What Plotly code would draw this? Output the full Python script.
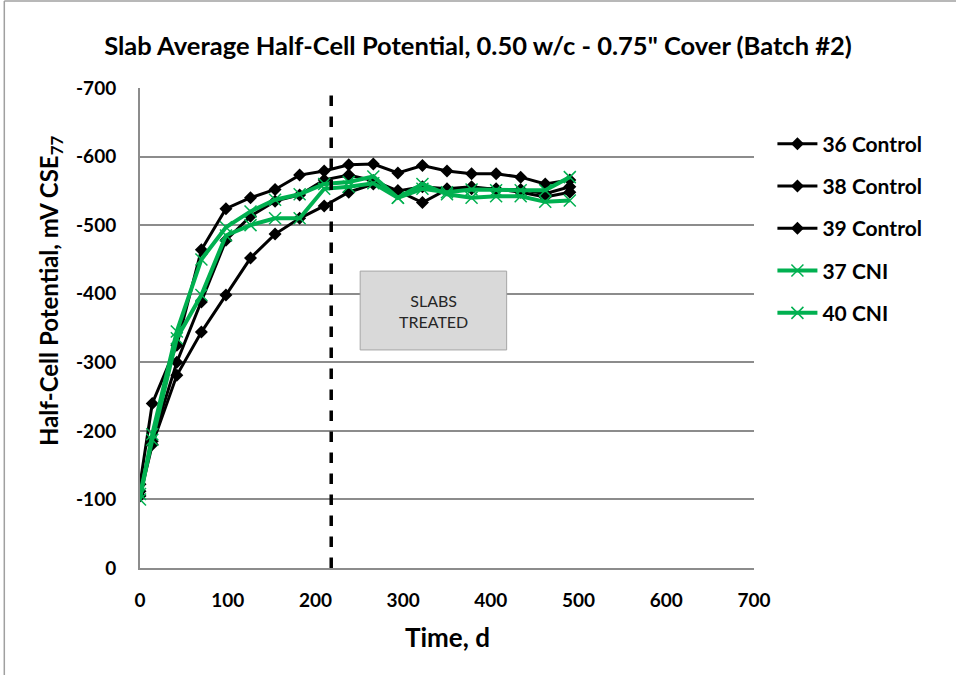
import plotly.graph_objects as go

# time, days
days = [0, 14, 42, 70, 98, 126, 154, 182, 210, 238, 266, 294, 322, 350, 378, 406, 434, 462, 490]

# half-cell potential, mV CSE
slab36 = [-122, -240, -325, -464, -524, -540, -552, -573, -579, -588, -589, -576, -587, -579, -575, -575, -570, -560, -566]
slab38 = [-105, -180, -281, -344, -398, -452, -487, -510, -528, -548, -560, -550, -533, -552, -553, -553, -548, -541, -548]
slab39 = [-112, -185, -300, -388, -478, -513, -535, -544, -566, -573, -565, -550, -556, -553, -556, -552, -552, -546, -556]
slab37 = [-100, -195, -345, -450, -497, -520, -537, -545, -560, -563, -571, -540, -560, -545, -540, -542, -542, -534, -536]
slab40 = [-108, -187, -335, -398, -485, -500, -510, -510, -553, -556, -561, -540, -553, -548, -552, -551, -551, -551, -570]

treat_day = 218
yticks = [0, -100, -200, -300, -400, -500, -600, -700]
xticks = [0, 100, 200, 300, 400, 500, 600, 700]

FONT = "Lato"
black = "#000000"
green = "#00b050"
grid = "#8c8c8c"

fig = go.Figure()

for name, vals in [("36 Control", slab36), ("38 Control", slab38), ("39 Control", slab39)]:
    fig.add_trace(go.Scatter(
        x=days, y=vals, name=f"<b>{name}</b>", legendgroup=name, mode="lines+markers",
        line=dict(color=black, width=3),
        marker=dict(symbol="diamond", size=10, color=black),
    ))

for name, vals in [("37 CNI", slab37), ("40 CNI", slab40)]:
    fig.add_trace(go.Scatter(
        x=days, y=vals, name=f"<b>{name}</b>", legendgroup=name, mode="lines+markers",
        line=dict(color=green, width=4),
        marker=dict(symbol="x-thin", size=12, color=green, line=dict(color=green, width=1.5)),
    ))

# treatment line
fig.add_shape(type="line", x0=treat_day, x1=treat_day, y0=0, y1=-700,
              line=dict(color=black, width=3.5, dash="dash"))

# "slabs treated" box
fig.add_shape(type="rect", x0=251, x1=418, y0=-318, y1=-433,
              fillcolor="#d9d9d9", line=dict(color="#a6a6a6", width=1))
fig.add_annotation(x=334.5, y=-375.5, text="SLABS<br>TREATED", showarrow=False,
                   font=dict(family=FONT, size=16, color="#262626"))

# axis titles
fig.add_annotation(xref="paper", yref="paper", x=-0.1466, y=0.577, xanchor="center", yanchor="middle",
                   textangle=-90, text="<b>Half-Cell Potential, mV CSE<sub>77</sub></b>", showarrow=False,
                   font=dict(family=FONT, size=24, color=black))
fig.add_annotation(xref="paper", yref="paper", x=0.5, y=-0.143, xanchor="center", yanchor="middle",
                   text="<b>Time, d</b>", showarrow=False,
                   font=dict(family=FONT, size=26, color=black))

# outer chart frame (top and left edges)
fig.add_shape(type="line", xref="paper", yref="paper", x0=-0.221, x1=1.33, y0=1.181, y1=1.181,
              line=dict(color="#a0a0a0", width=1.5))
fig.add_shape(type="line", xref="paper", yref="paper", x0=-0.221, x1=-0.221, y0=1.181, y1=-0.23,
              line=dict(color="#a0a0a0", width=1.5))

fig.update_layout(
    width=956, height=675,
    margin=dict(l=140, r=202, t=88, b=107),
    paper_bgcolor="white", plot_bgcolor="white",
    font=dict(family=FONT, color=black),
    title=dict(text="<b>Slab Average Half-Cell Potential, 0.50 w/c - 0.75\" Cover (Batch #2)</b>",
               x=0.5, xanchor="center", y=0.932, yanchor="middle",
               font=dict(family=FONT, size=25.5, color=black)),
    legend=dict(x=1.03, y=0.926, xanchor="left", yanchor="top",
                font=dict(family=FONT, size=21, color=black),
                tracegroupgap=12, itemwidth=40, bgcolor="rgba(0,0,0,0)"),
    showlegend=True,
)

fig.update_xaxes(
    range=[0, 700], tickvals=xticks, ticktext=[f"<b>{v}</b>" for v in xticks],
    showgrid=False, zeroline=False, showline=True, linecolor=grid, linewidth=2,
    ticks="", ticklabelstandoff=14, tickfont=dict(family=FONT, size=19, color=black),
)
fig.update_yaxes(
    range=[0, -700], tickvals=yticks, ticktext=[f"<b>{v}</b>" for v in yticks],
    showgrid=True, gridcolor=grid, gridwidth=2, zeroline=False,
    showline=True, linecolor=grid, linewidth=2,
    ticks="", ticklabelstandoff=18, tickfont=dict(family=FONT, size=19, color=black),
)

fig.write_html("out.html", config={"displayModeBar": False},
               post_script="document.body.style.margin='0';")
